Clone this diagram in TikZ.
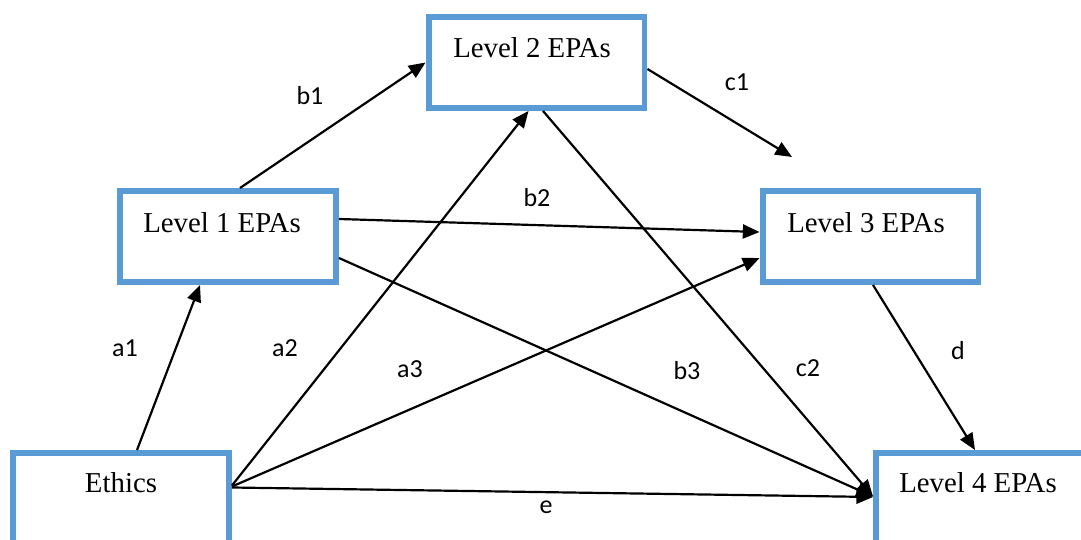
\documentclass[tikz,border=0pt]{standalone}
\usepackage{fontspec}
\setmainfont{Liberation Serif}
\newfontfamily\pathfont{Carlito}
\usetikzlibrary{calc,arrows.meta}
\definecolor{boxblue}{RGB}{91,155,213}
\tikzset{
	epabox/.style={rectangle, draw=boxblue, line width=3.4pt, minimum width=4.32cm, minimum height=1.82cm},
	epatext/.style={inner sep=0pt, font=\fontsize{16.4}{19}\selectfont},
	pathlbl/.style={inner sep=0pt, font=\pathfont\fontsize{14.8}{17}\selectfont},
	link/.style={line width=1.25pt, -{Triangle[length=9.5pt,width=8pt]}}
}

\begin{document}
\begin{tikzpicture}[x=0.02cm, y=-0.02cm]
			%%%%% START %%%%%
			\useasboundingbox (0, 0) rectangle (1081, 540);
			\clip (0, 0) rectangle (1081, 540);
			
			% boxes
			\node[epabox] (lvl2) at (536.5, 62.5) {};
			\node[epabox] (lvl1) at (228, 236.5) {};
			\node[epabox] (lvl3) at (870.5, 236.5) {};
			\node[epabox] (ethics) at (121, 498.5) {};
			\node[epabox] (lvl4) at (984, 498.5) {};
			
			\node[epatext] (t2) at (532, 48) {Level 2 EPAs};
			\node[epatext] (t1) at (222, 223) {Level 1 EPAs};
			\node[epatext] (t3) at (866, 223) {Level 3 EPAs};
			\node[epatext] (te) at (121, 483) {Ethics};
			\node[epatext] (t4) at (978, 483) {Level 4 EPAs};
			
			% paths
			\coordinate (c1end) at (792, 157);
			\draw[link] ($(ethics.north)+(16, 0)$) -- ($(lvl1.south)+(-28, 0)$);
			\draw[link] ($(lvl1.north)+(12, 0)$) -- (lvl2.west);
			\draw[link] ($(lvl2.east)+(0, 6.5)$) -- (c1end);
			\draw[link] ($(lvl1.east)+(0, -17.5)$) -- ($(lvl3.west)+(0, -4.5)$);
			\draw[link] ($(ethics.east)+(0, -13)$) -- ($(lvl2.south)+(-8, 0)$);
			\draw[link] ($(ethics.east)+(0, -12)$) -- ($(lvl3.west)+(0, 21.5)$);
			\draw[link] ($(ethics.east)+(0, -11)$) -- ($(lvl4.west)+(0, -1.5)$);
			\draw[link] ($(lvl1.east)+(0, 21.5)$) -- ($(lvl4.west)+(0, -2)$);
			\draw[link] ($(lvl2.south)+(6.5, 0)$) -- ($(lvl4.west)+(0, -2)$);
			\draw[link] ($(lvl3.south)+(2.5, 0)$) -- ($(lvl4.north)+(-9, 0)$);
			
			% labels
			\node[pathlbl] (a1) at (125, 348) {a1};
			\node[pathlbl] (a2) at (285, 348) {a2};
			\node[pathlbl] (a3) at (410, 369) {a3};
			\node[pathlbl] (b1) at (310, 96) {b1};
			\node[pathlbl] (b2) at (537, 198) {b2};
			\node[pathlbl] (b3) at (687, 371) {b3};
			\node[pathlbl] (c1) at (737, 82) {c1};
			\node[pathlbl] (c2) at (808, 368) {c2};
			\node[pathlbl] (d) at (958, 351) {d};
			\node[pathlbl] (e) at (546, 507) {e};
			%%%%% END %%%%%
\end{tikzpicture}
\end{document}
